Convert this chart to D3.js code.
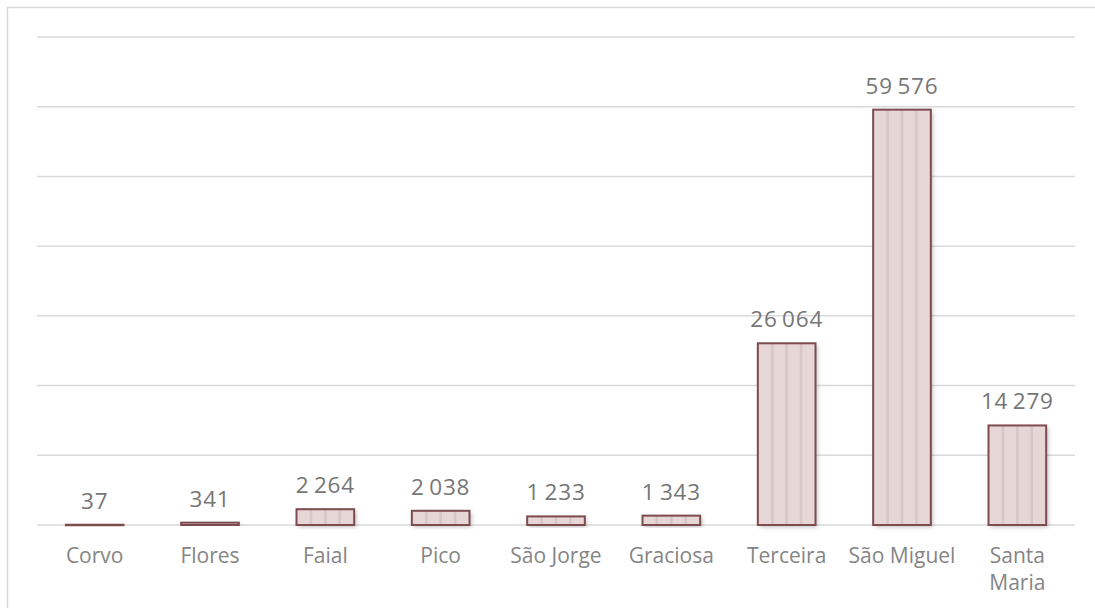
<!DOCTYPE html>
<html>
<head>
<meta charset="utf-8">
<script src="https://cdn.jsdelivr.net/npm/d3@7"></script>
<style>
  body { margin: 0; background: #fff; }
  svg text { font-family: "Open Sans", "Liberation Sans", sans-serif; }
</style>
</head>
<body>
<div id="container"></div>
<script>
// ------ data ------
const islands = ['Corvo', 'Flores', 'Faial', 'Pico', 'São Jorge', 'Graciosa', 'Terceira', 'São Miguel', 'Santa Maria'];
const values = [37, 341, 2264, 2038, 1233, 1343, 26064, 59576, 14279];
const yTicks = [0, 10000, 20000, 30000, 40000, 50000, 60000, 70000];

const width = 1095,
  height = 608;

const svg = d3.select('#container').append('svg')
  .attr('width', width)
  .attr('height', height);

// frame
svg.append('rect')
  .attr('x', 7.5).attr('y', 7.5)
  .attr('width', width + 10).attr('height', height + 10)
  .attr('fill', 'none')
  .attr('stroke', '#d9d9d9')
  .attr('stroke-width', 1.5);

const defs = svg.append('defs');
const shadow = defs.append('filter').attr('id', 'shadow')
  .attr('x', '-20%').attr('y', '-20%').attr('width', '150%').attr('height', '150%');
shadow.append('feDropShadow')
  .attr('dx', 2).attr('dy', 2).attr('stdDeviation', 2)
  .attr('flood-color', '#000').attr('flood-opacity', 0.25);

const x = d3.scaleBand()
  .domain(islands)
  .range([37, 1075])
  .paddingInner(0.5)
  .paddingOuter(0.25);

const y = d3.scaleLinear()
  .domain([0, 70000])
  .range([525, 37]);

// gridlines
svg.append('g').attr('id', 'grid')
  .selectAll('line').data(yTicks)
  .enter().append('line')
  .attr('x1', 37).attr('x2', 1075)
  .attr('y1', d => y(d)).attr('y2', d => y(d))
  .attr('stroke', '#d9d9d9')
  .attr('stroke-width', 1.5);

// bars
const bars = svg.append('g').attr('id', 'bars')
  .selectAll('.bar').data(islands)
  .enter().append('g')
  .attr('class', 'bar');

bars.append('rect')
  .attr('x', d => x(d))
  .attr('y', (d, i) => y(values[i]))
  .attr('width', x.bandwidth())
  .attr('height', (d, i) => y(0) - y(values[i]))
  .attr('fill', '#e6d6d6')
  .attr('filter', 'url(#shadow)');

// vertical stripes inside bars
bars.each(function(d, i) {
  const g = d3.select(this);
  const top = y(values[i]);
  if (y(0) - top < 3) return;
  [1, 2, 3].forEach(k => {
    const sx = x(d) + x.bandwidth() * k / 4;
    g.append('line')
      .attr('x1', sx).attr('x2', sx)
      .attr('y1', top).attr('y2', y(0))
      .attr('stroke', '#d8c5c5')
      .attr('stroke-width', 2.5);
  });
});

bars.append('rect')
  .attr('x', d => x(d))
  .attr('y', (d, i) => y(values[i]))
  .attr('width', x.bandwidth())
  .attr('height', (d, i) => Math.max(0.5, y(0) - y(values[i])))
  .attr('fill', 'none')
  .attr('stroke', '#7e4c4f')
  .attr('stroke-width', 2);

// value labels
const fmt = d3.formatLocale({ decimal: ',', thousands: '\u2009', grouping: [3], currency: ['', ''] }).format(',d');
svg.append('g').attr('id', 'labels')
  .selectAll('text').data(islands)
  .enter().append('text')
  .attr('x', d => x(d) + x.bandwidth() / 2)
  .attr('y', (d, i) => y(values[i]) - 16)
  .attr('text-anchor', 'middle')
  .style('font-size', '22.5px')
  .style('letter-spacing', '0.8px')
  .style('fill', '#767676')
  .text((d, i) => fmt(values[i]));

// category labels
svg.append('g').attr('id', 'categories')
  .selectAll('text').data(islands)
  .enter().append('text')
  .attr('text-anchor', 'middle')
  .attr('y', 563)
  .style('font-size', '21px')
  .style('fill', '#858585')
  .each(function(d) {
    const words = d === 'Santa Maria' ? ['Santa', 'Maria'] : [d];
    const t = d3.select(this);
    words.forEach((w, k) => {
      t.append('tspan')
        .attr('x', x(d) + x.bandwidth() / 2)
        .attr('dy', k === 0 ? 0 : 27)
        .text(w);
    });
  });
</script>
</body>
</html>
